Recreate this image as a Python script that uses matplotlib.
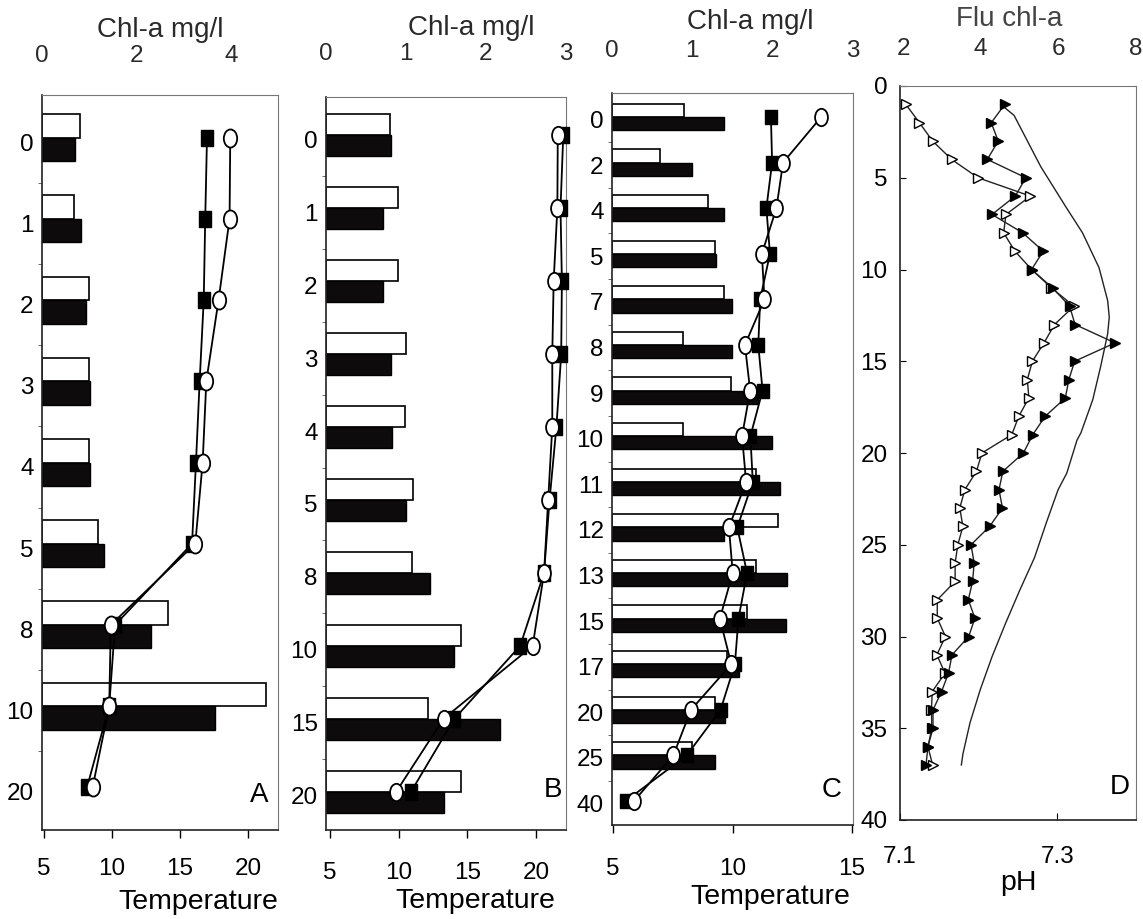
import matplotlib
matplotlib.use("Agg")
import matplotlib.pyplot as plt
import numpy as np
from matplotlib.path import Path
from matplotlib.transforms import Affine2D

plt.rcParams['font.family'] = ['Liberation Sans', 'DejaVu Sans']

W, H = 1143, 919

# ---- panel A ----
depth_a = ['0', '1', '2', '3', '4', '5', '8', '10', '20']
chl_open_a = [0.80, 0.68, 0.99, 0.99, 0.99, 1.18, 2.68, 4.75, None]
chl_fill_a = [0.70, 0.82, 0.93, 1.01, 1.01, 1.31, 2.30, 3.67, None]
temp_sq_a = [16.98, 16.85, 16.74, 16.44, 16.17, 15.88, 10.22, 9.79, 8.16]
temp_ci_a = [18.69, 18.64, 17.83, 16.93, 16.66, 16.12, 9.91, 9.79, 8.57]

# ---- panel B ----
depth_b = ['0', '1', '2', '3', '4', '5', '8', '10', '15', '20']
chl_open_b = [0.80, 0.90, 0.90, 1.00, 0.99, 1.09, 1.08, 1.69, 1.28, 1.69]
chl_fill_b = [0.81, 0.71, 0.71, 0.81, 0.82, 1.00, 1.30, 1.60, 2.18, 1.48]
temp_sq_b = [22.0, 21.8, 21.9, 21.85, 21.5, 21.0, 20.6, 18.86, 14.06, 10.9]
temp_ci_b = [21.6, 21.57, 21.3, 21.2, 21.2, 20.9, 20.6, 19.77, 13.27, 9.82]

# ---- panel C ----
depth_c = ['0', '2', '4', '5', '7', '8', '9', '10', '11', '12', '13', '15', '17', '20', '25', '40']
chl_open_c = [0.90, 0.60, 1.19, 1.28, 1.39, 0.89, 1.48, 0.89, 1.79, 2.07, 1.79, 1.68, 1.43, 1.28, 0.99, None]
chl_fill_c = [1.40, 1.00, 1.40, 1.29, 1.49, 1.49, 1.82, 1.99, 2.09, 1.39, 2.18, 2.17, 1.58, 1.41, 1.28, None]
temp_sq_c = [11.61, 11.66, 11.42, 11.57, 11.16, 11.08, 11.26, 10.75, 10.85, 10.2, 10.61, 10.25, 10.1, 9.5, 8.08, 5.52]
temp_ci_c = [13.72, 12.12, 11.84, 11.23, 11.34, 10.52, 10.74, 10.4, 10.57, 9.85, 10.01, 9.47, 9.95, 8.26, 7.52, 5.87]

# ---- panel D ----
depth_d = list(range(1, 38))
flu_open_d = [2.07, 2.42, 2.76, 3.25, 3.93, 5.28, 4.65, 4.59, 4.88, 5.31, 5.82, 6.40, 5.90,
              5.63, 5.33, 5.20, 5.24, 4.98, 4.80, 4.03, 3.89, 3.59, 3.46, 3.54, 3.41, 3.34,
              3.34, 2.88, 2.88, 3.09, 2.87, 3.08, 2.75, 2.73, 2.74, 2.64, 2.76]
flu_fill_d = [4.62, 4.27, 4.45, 4.17, 5.16, 4.89, 4.29, 5.08, 5.61, 5.31, 5.85, 6.29, 6.43,
              7.46, 6.42, 6.27, 6.18, 5.66, 5.34, 5.10, 4.57, 4.47, 4.56, 4.23, 3.75, 3.83,
              3.79, 3.68, 3.85, 3.69, 3.26, 3.17, 2.99, 2.77, 2.77, 2.64, 2.59]
ph_depth = [1.0, 1.6, 4.4, 6.6, 8.0, 9.9, 11.7, 12.6, 13.5, 15.3, 17.1, 18.9, 19.3, 21.1,
            22.0, 23.8, 25.7, 27.5, 29.3, 31.1, 32.9, 34.7, 36.4, 37.0]
ph_vals = [7.228, 7.245, 7.279, 7.311, 7.332, 7.353, 7.364, 7.366, 7.364, 7.355, 7.345,
           7.330, 7.325, 7.312, 7.301, 7.286, 7.271, 7.252, 7.234, 7.217, 7.202, 7.189,
           7.180, 7.178]

ellipse = Path.unit_circle().transformed(Affine2D().scale(0.74, 1.0))
rect = Path([(-0.42, -0.5), (0.42, -0.5), (0.42, 0.5), (-0.42, 0.5), (-0.42, -0.5)],
            [Path.MOVETO, Path.LINETO, Path.LINETO, Path.LINETO, Path.CLOSEPOLY])

fig = plt.figure(figsize=(W / 100, H / 100), dpi=100)


def box(l, r, t, b):
    return [l / W, 1 - b / H, (r - l) / W, (b - t) / H]


def style_spines(ax):
    for s in ['top', 'right']:
        ax.spines[s].set_color('#777777')
        ax.spines[s].set_linewidth(0.8)
    for s in ['left', 'bottom']:
        ax.spines[s].set_color('#222222')
        ax.spines[s].set_linewidth(1.2)


def bar_panel(rect_px, depths, c_open, c_fill, t_sq, t_ci, chl_lim, chl_ticks,
              t_lim, t_ticks, top_pad, bot_pad, ci_ms, sq_ms):
    ax = fig.add_axes(box(*rect_px))
    ax2 = ax.twiny()
    n = len(depths)
    pos = np.arange(n)
    io = [i for i in range(n) if c_open[i] is not None]
    jf = [i for i in range(n) if c_fill[i] is not None]
    ax.barh(pos[io] - 0.2, [c_open[i] for i in io], height=0.29, color='white',
            edgecolor='black', linewidth=1.2, zorder=2)
    ax.barh(pos[jf] + 0.09, [c_fill[i] for i in jf], height=0.29, color='#0d0b0b',
            edgecolor='black', linewidth=1.0, zorder=2)
    ax.set_xlim(chl_lim)
    ax.set_xticks(chl_ticks)
    ax.xaxis.tick_top()
    ax.tick_params(axis='x', length=0, pad=top_pad, labelsize=17.5, labelcolor='#2a2a2a')
    ax.set_ylim(n - 0.53, -0.58)
    ax.set_yticks(pos, depths)
    ax.set_yticks(pos[:-1] + 0.5, minor=True)
    ax.tick_params(axis='y', which='major', length=0, pad=6, labelsize=17.5)
    ax.tick_params(axis='y', which='minor', length=3, direction='out', color='#555555')
    style_spines(ax)

    yl = pos - 0.055
    ax2.plot(t_sq, yl, color='black', lw=1.3, marker=rect, ms=sq_ms, mfc='black',
             mec='black', clip_on=False, zorder=3)
    ax2.plot(t_ci, yl, color='black', lw=1.3, marker=ellipse, ms=ci_ms, mfc='white',
             mec='black', mew=1.3, clip_on=False, zorder=4)
    ax2.set_xlim(t_lim)
    ax2.xaxis.tick_bottom()
    ax2.set_xticks(t_ticks)
    ax2.tick_params(axis='x', direction='out', length=6, width=1.0, pad=bot_pad, labelsize=17.5)
    for s in ax2.spines.values():
        s.set_visible(False)
    return ax, ax2


bar_panel((42, 278, 95, 830), depth_a, chl_open_a, chl_fill_a, temp_sq_a, temp_ci_a,
          (0, 5.0), [0, 2, 4], (4.85, 22.2), [5, 10, 15, 20], 20, 14.5, 13, 11)
bar_panel((326, 566, 97, 830), depth_b, chl_open_b, chl_fill_b, temp_sq_b, temp_ci_b,
          (0, 3.0), [0, 1, 2, 3], (4.7, 22.2), [5, 10, 15, 20], 23, 17, 12.5, 11)
bar_panel((612, 853, 93, 825), depth_c, chl_open_c, chl_fill_c, temp_sq_c, temp_ci_c,
          (0, 3.0), [0, 1, 2, 3], (4.95, 15.05), [5, 10, 15], 22, 18, 12.5, 10)

# panel D
axd = fig.add_axes(box(900, 1136, 86, 820))
axf = axd.twiny()
axd.plot(ph_vals, ph_depth, color='#222222', lw=1.0, zorder=2)
axd.set_xlim(7.1, 7.4)
axd.set_xticks([7.1, 7.3], ['7.1', '7.3'])
axd.tick_params(axis='x', direction='in', length=5, pad=19, labelsize=17.5)
axd.set_ylim(40, 0)
axd.set_yticks(np.arange(0, 41, 5))
axd.tick_params(axis='y', direction='in', length=4, pad=9, labelsize=17.5)
style_spines(axd)

axf.plot(flu_open_d, depth_d, color='#222222', lw=1.0, marker='>', ms=7.5, mfc='white',
         mec='black', mew=1.0, zorder=3)
axf.plot(flu_fill_d, depth_d, color='#222222', lw=1.0, marker='>', ms=7.5, mfc='black',
         mec='black', zorder=4)
axf.set_xlim(1.92, 8.0)
axf.set_xticks([2, 4, 6, 8])
axf.tick_params(axis='x', length=0, pad=19, labelsize=17.5, labelcolor='#2a2a2a')
for s in axf.spines.values():
    s.set_visible(False)


# titles, axis labels and panel letters
def ftext(x, y, s, **kw):
    fig.text(x / W, 1 - y / H, s, ha='center', va='center', **kw)


ftext(160, 30, 'Chl-a mg/l', fontsize=20, color='#2a2a2a')
ftext(471, 28, 'Chl-a mg/l', fontsize=20, color='#2a2a2a')
ftext(750, 22, 'Chl-a mg/l', fontsize=20, color='#2a2a2a')
ftext(1009, 19, 'Flu chl-a', fontsize=20, color='#444444')

ftext(198, 902, 'Temperature', fontsize=20.5)
ftext(475, 901, 'Temperature', fontsize=20.5)
ftext(770, 897, 'Temperature', fontsize=20.5)
ftext(1018, 883, 'pH', fontsize=20.5)

ftext(259, 795, 'A', fontsize=20)
ftext(553, 790, 'B', fontsize=20)
ftext(832, 790, 'C', fontsize=20)
ftext(1120, 787, 'D', fontsize=20)

fig.savefig('out.png', dpi=100, facecolor='white')
